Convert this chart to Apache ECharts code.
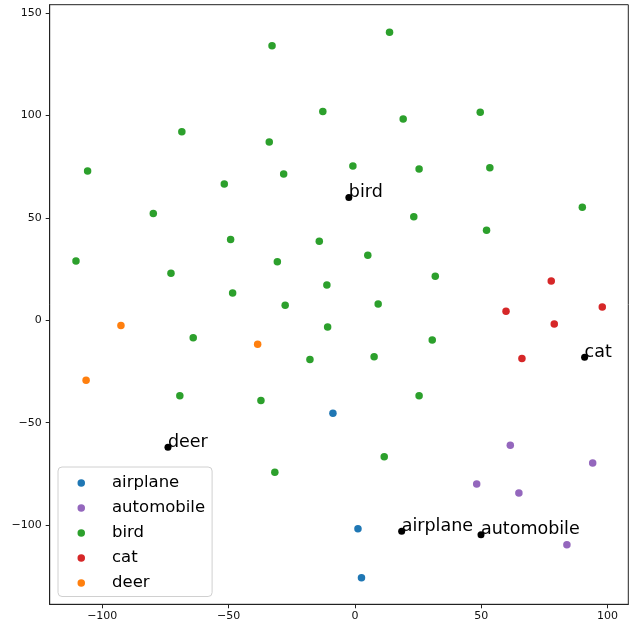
<!DOCTYPE html>
<html>
<head>
<meta charset="utf-8">
<script src="https://cdn.jsdelivr.net/npm/echarts@6/dist/echarts.min.js"></script>
<style>html,body{margin:0;padding:0;background:#fff;}#c{width:629px;height:624px;}</style>
</head>
<body>
<div id="c"></div>
<script>
const categories = ['airplane', 'automobile', 'bird', 'cat', 'deer'];
const colors = ['#1f77b4', '#9467bd', '#2ca02c', '#d62728', '#ff7f0e'];

const airplanePts = [[-8.7, -45.4], [1.2, -101.8], [2.6, -125.7]];
const automobilePts = [[61.5, -61.0], [94.1, -69.7], [48.2, -79.9], [64.9, -84.3], [83.9, -109.6]];
const birdPts = [
  [-32.8, 134.1], [-68.5, 92.1], [-33.9, 87.1], [-105.8, 72.9], [-28.2, 71.4], [-51.7, 66.6],
  [-79.8, 52.1], [-49.2, 39.5], [-110.4, 29.0], [-30.7, 28.6], [-72.8, 22.9], [-48.4, 13.3],
  [-27.6, 7.3], [-14.1, 38.6], [-12.7, 102.0], [13.7, 140.6], [19.1, 98.3], [49.6, 101.6],
  [-0.8, 75.3], [25.4, 73.9], [53.4, 74.5], [90.0, 55.2], [23.3, 50.6], [52.1, 43.9],
  [5.1, 31.7], [31.8, 21.5], [-11.1, 17.2], [9.2, 8.0], [-64.0, -8.5], [-17.8, -19.2],
  [-69.3, -36.8], [-37.2, -39.2], [-31.7, -74.2], [-10.8, -3.3], [7.6, -17.8], [30.6, -9.6],
  [25.4, -36.8], [11.6, -66.6]
];
const catPts = [[77.7, 19.2], [59.8, 4.4], [97.9, 6.5], [78.9, -1.8], [66.1, -18.7]];
const deerPts = [[-92.6, -2.6], [-38.5, -11.7], [-106.4, -29.3]];

const centroidNames = ['bird', 'cat', 'deer', 'airplane', 'automobile'];
const centroidX = [-2.4, 90.9, -74.0, 18.5, 49.9];
const centroidY = [59.9, -18.1, -62.0, -103.0, -104.7];

const xTicks = [-100, -50, 0, 50, 100];
const yTicks = [-100, -50, 0, 50, 100, 150];

const seriesData = [airplanePts, automobilePts, birdPts, catPts, deerPts];
const FONT = 'DejaVu Sans';
const fmt = v => String(v).replace('-', '\u2212');

const series = categories.map((name, i) => ({
  name: name,
  type: 'scatter',
  symbol: 'circle',
  symbolSize: 7.5,
  itemStyle: { color: colors[i], opacity: 1 },
  data: seriesData[i],
  z: 2
}));

series.push({
  name: 'centroids',
  type: 'scatter',
  symbol: 'circle',
  symbolSize: 7,
  itemStyle: { color: '#000', opacity: 1 },
  data: centroidNames.map((n, i) => ({ value: [centroidX[i], centroidY[i]], name: n })),
  label: {
    show: true,
    formatter: p => p.name,
    position: ['50%', '50%'],
    align: 'left',
    verticalAlign: 'bottom',
    offset: [0, 4],
    color: '#000',
    opacity: 1,
    fontFamily: FONT,
    fontSize: 17.5
  },
  z: 3
});

const chart = echarts.init(document.getElementById('c'), null, { renderer: 'canvas' });
chart.setOption({
  animation: false,
  backgroundColor: '#fff',
  grid: {
    left: 49.7, right: 0.7, top: 4.7, bottom: 19.7,
    show: true, borderColor: '#222', borderWidth: 1, backgroundColor: 'transparent'
  },
  xAxis: {
    type: 'value',
    min: -120.8, max: 108.2,
    splitLine: { show: false },
    axisLine: { show: true, onZero: false, lineStyle: { color: '#222' } },
    axisTick: { show: true, length: 4, customValues: xTicks, lineStyle: { color: '#222' } },
    axisLabel: { customValues: xTicks, formatter: fmt, color: '#111', fontFamily: FONT, fontSize: 11, margin: 6 }
  },
  yAxis: {
    type: 'value',
    min: -138.7, max: 154.1,
    splitLine: { show: false },
    axisLine: { show: true, onZero: false, lineStyle: { color: '#222' } },
    axisTick: { show: true, length: 4, customValues: yTicks, lineStyle: { color: '#222' } },
    axisLabel: { customValues: yTicks, formatter: fmt, color: '#111', fontFamily: FONT, fontSize: 11, margin: 8 }
  },
  legend: {
    data: categories,
    orient: 'vertical',
    left: 58, top: 467,
    icon: 'circle',
    itemWidth: 7.5, itemHeight: 7.5,
    itemGap: 8.0,
    padding: [7.5, 7, 5, 19.5],
    backgroundColor: '#fff',
    borderColor: '#d0d0d0',
    borderWidth: 1,
    borderRadius: 4,
    textStyle: { fontFamily: FONT, fontSize: 16.5, color: '#000', padding: [0, 0, 0, 22] }
  },
  series: series
});
</script>
</body>
</html>
